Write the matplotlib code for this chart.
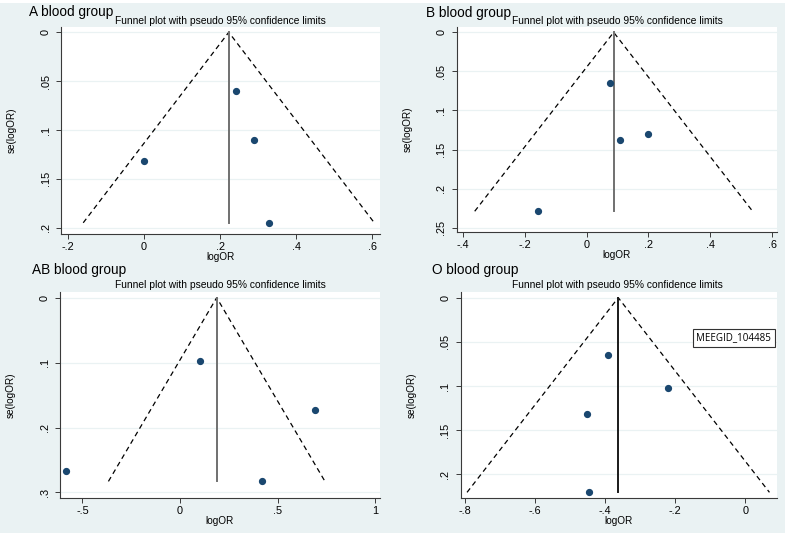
import matplotlib
matplotlib.use("Agg")
import matplotlib.pyplot as plt
from matplotlib.patches import Rectangle

plt.rcParams['font.family'] = ['Liberation Sans', 'DejaVu Sans']

W, H = 793, 538

# ---- data ----
titles = ["A blood group", "B blood group", "AB blood group", "O blood group"]
subtitle = "Funnel plot with pseudo 95% confidence limits"

a_logor = [0.0, 0.241, 0.288, 0.329]
a_se = [0.132, 0.0604, 0.110, 0.195]
a_pooled = 0.223
a_xticks = [-0.2, 0, 0.2, 0.4, 0.6]
a_xlabels = ["-.2", "0", ".2", ".4", ".6"]
a_yticks = [0, 0.05, 0.1, 0.15, 0.2]
a_ylabels = ["0", ".05", ".1", ".15", ".2"]

b_logor = [0.077, 0.107, 0.197, -0.158]
b_se = [0.065, 0.138, 0.1305, 0.229]
b_pooled = 0.0876
b_xticks = [-0.4, -0.2, 0, 0.2, 0.4, 0.6]
b_xlabels = ["-.4", "-.2", "0", ".2", ".4", ".6"]
b_yticks = [0, 0.05, 0.1, 0.15, 0.2, 0.25]
b_ylabels = ["0", ".05", ".1", ".15", ".2", ".25"]

ab_logor = [-0.582, 0.104, 0.693, 0.422]
ab_se = [0.2675, 0.097, 0.1735, 0.283]
ab_pooled = 0.188
ab_xticks = [-0.5, 0, 0.5, 1]
ab_xlabels = ["-.5", "0", ".5", "1"]
ab_yticks = [0, 0.1, 0.2, 0.3]
ab_ylabels = ["0", ".1", ".2", ".3"]

o_logor = [-0.391, -0.221, -0.452, -0.446]
o_se = [0.0645, 0.1023, 0.132, 0.2204]
o_pooled = -0.363
o_xticks = [-0.8, -0.6, -0.4, -0.2, 0]
o_xlabels = ["-.8", "-.6", "-.4", "-.2", "0"]
o_yticks = [0, 0.05, 0.1, 0.15, 0.2]
o_ylabels = ["0", ".05", ".1", ".15", ".2"]

annotation = "MEEGID_104485"

# ---- layout (pixels) ----
panels = [
    dict(logor=a_logor, se=a_se, pooled=a_pooled, xt=a_xticks, xl=a_xlabels, yt=a_yticks, yl=a_ylabels,
         box=(61, 26.7, 380, 234.3), xlim=(-0.2176, 0.6202), ylim=(0.2068, -0.0057),
         title_xy=(29, 12), sub_xy=(220, 20.5), cl='#707070'),
    dict(logor=b_logor, se=b_se, pooled=b_pooled, xt=b_xticks, xl=b_xlabels, yt=b_yticks, yl=b_ylabels,
         box=(456.7, 26.7, 776.7, 232.3), xlim=(-0.4194, 0.6142), ylim=(0.2559, -0.0072),
         title_xy=(426, 13), sub_xy=(617, 20.5), cl='#707070'),
    dict(logor=ab_logor, se=ab_se, pooled=ab_pooled, xt=ab_xticks, xl=ab_xlabels, yt=ab_yticks, yl=ab_ylabels,
         box=(60, 291.7, 380, 498), xlim=(-0.6148, 1.0246), ylim=(0.3086, -0.0092),
         title_xy=(32, 270), sub_xy=(220, 284.5), cl='#707070'),
    dict(logor=o_logor, se=o_se, pooled=o_pooled, xt=o_xticks, xl=o_xlabels, yt=o_yticks, yl=o_ylabels,
         box=(460.7, 292.3, 776.7, 498), xlim=(-0.8131, 0.0897), ylim=(0.2268, -0.0061),
         title_xy=(432, 270), sub_xy=(617, 285), cl='#1a1a1a'),
]

BG = '#EAF2F3'
fig = plt.figure(figsize=(W / 100, H / 100), dpi=100, facecolor='white')
fig.patches.append(Rectangle((0, 1 - 533 / H), 785 / W, (533 - 3) / H, transform=fig.transFigure,
                             facecolor=BG, edgecolor='none', zorder=-10))

for p, title in zip(panels, titles):
    x0, y0, x1, y1 = p['box']
    ax = fig.add_axes([x0 / W, 1 - y1 / H, (x1 - x0) / W, (y1 - y0) / H])
    ax.set_zorder(1)
    ax.set_facecolor('white')
    ax.set_xlim(*p['xlim'])
    ax.set_ylim(*p['ylim'])
    for s in ['top', 'right']:
        ax.spines[s].set_visible(False)
    for s in ['left', 'bottom']:
        ax.spines[s].set_color('#3a3a3a')
        ax.spines[s].set_linewidth(0.8)
    ax.set_xticks(p['xt'])
    ax.set_xticklabels(p['xl'], fontsize=7.8)
    ax.set_yticks(p['yt'])
    ax.set_yticklabels(p['yl'], fontsize=7.8, rotation=90, va='center')
    ax.tick_params(length=3.5, width=0.7, color='#3a3a3a', pad=2)
    ax.tick_params(axis='y', pad=4)
    for yv in p['yt']:
        ax.axhline(yv, color=BG, lw=0.9, zorder=0.5)
    semax = max(p['se'])
    c = p['pooled']
    ax.plot([c - 1.96 * semax, c, c + 1.96 * semax], [semax, 0, semax], color='black',
            lw=0.9, ls=(0, (4, 3)), zorder=2)
    ax.plot([c, c], [0, semax], color=p['cl'], lw=1.4, zorder=2)
    ax.plot(p['logor'], p['se'], 'o', color='#1a476f', ms=4.2, mec='#1a476f', zorder=3, clip_on=False)
    ax.set_xlabel('logOR', fontsize=7.2, labelpad=0)
    ax.set_ylabel('se(logOR)', fontsize=7.2, labelpad=17)
    fig.text(p['title_xy'][0] / W, 1 - p['title_xy'][1] / H, title, fontsize=9.8, ha='left', va='center')
    fig.text(p['sub_xy'][0] / W, 1 - p['sub_xy'][1] / H, subtitle, fontsize=7.4, ha='center', va='center')

fig.text(733.8 / W, 1 - 337.9 / H, annotation, fontsize=7, ha='center', va='center',
         family=['Open Sans', 'DejaVu Sans'], zorder=5,
         bbox=dict(boxstyle='square,pad=0.35', facecolor='white', edgecolor='#333333', lw=0.8))

fig.savefig('out.png', dpi=100, facecolor=fig.get_facecolor())
